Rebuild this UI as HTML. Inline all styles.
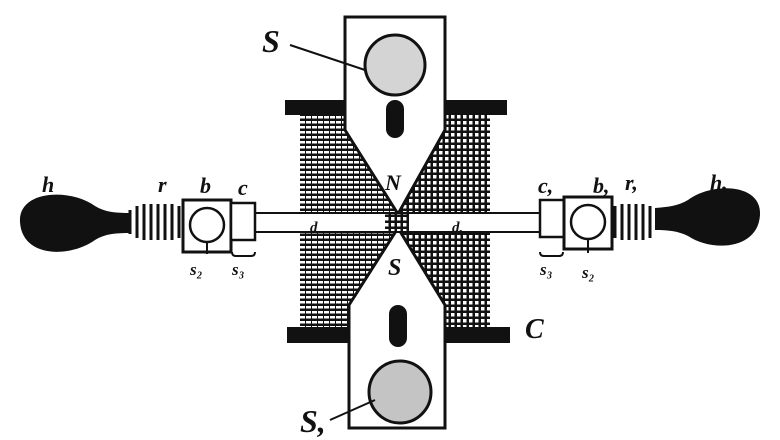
<!DOCTYPE html>
<html><head><style>body{margin:0;background:#fff}svg{display:block}</style></head><body>
<svg width="780" height="440" viewBox="0 0 780 440" xmlns="http://www.w3.org/2000/svg" font-family="Liberation Serif, serif" font-style="italic" font-weight="bold">
<defs>
<pattern id="hatch" width="6" height="5" patternUnits="userSpaceOnUse">
<rect width="6" height="5" fill="#111"/><rect x="0" y="1" width="5" height="2.5" fill="#fff"/>
</pattern>
<pattern id="grid" width="6" height="6" patternUnits="userSpaceOnUse">
<rect width="6" height="6" fill="#111"/><rect x="1" y="1" width="3.5" height="3.5" fill="#fff"/>
</pattern>
</defs>
<!-- coil -->
<rect x="300" y="114" width="95" height="214" fill="url(#hatch)"/>
<rect x="395" y="114" width="95" height="214" fill="url(#grid)"/>
<rect x="285" y="100" width="222" height="15" fill="#111"/>
<rect x="287" y="327" width="223" height="16" fill="#111"/>
<!-- top plate -->
<path d="M345 17 H445 V130 L398 214 L345 130 Z" fill="#fff" stroke="#111" stroke-width="3"/>
<circle cx="395" cy="65" r="30" fill="#d4d4d4" stroke="#111" stroke-width="3"/>
<rect x="386" y="100" width="18" height="38" rx="9" fill="#111"/>
<!-- bottom plate -->
<path d="M349 428 H445 V305 L398 228 L349 305 Z" fill="#fff" stroke="#111" stroke-width="3"/>
<circle cx="400" cy="392" r="31" fill="#c4c4c4" stroke="#111" stroke-width="3"/>
<rect x="389" y="305" width="18" height="42" rx="9" fill="#111"/>
<!-- rod -->
<rect x="255" y="213" width="285" height="19" fill="#fff" stroke="#111" stroke-width="2"/>
<rect x="385" y="214" width="24" height="17" fill="url(#grid)"/>
<!-- springs -->
<g stroke="#111" stroke-width="3" fill="none">
<path d="M130 210 v24 M137 206 v32 M144 204 v36 M151 204 v36 M158 204 v36 M165 204 v36 M172 204 v36 M179 206 v32"/>
<path d="M615 206 v32 M622 204 v36 M629 204 v36 M636 204 v36 M643 204 v36 M650 206 v32"/>
</g>
<!-- handles -->
<path d="M20 222 C18 190 70 188 95 206 C105 212 115 213 130 213 V233 C115 233 105 234 95 240 C70 258 22 258 20 222 Z" fill="#111"/>
<path d="M760 215 C762 183 712 182 688 200 C678 206 668 207 655 208 V230 C668 230 678 231 688 236 C712 252 758 250 760 215 Z" fill="#111"/>
<!-- blocks -->
<rect x="183" y="200" width="48" height="52" fill="#fff" stroke="#111" stroke-width="3"/>
<circle cx="207" cy="225" r="17" fill="#fff" stroke="#111" stroke-width="2.5"/>
<rect x="231" y="203" width="24" height="37" fill="#fff" stroke="#111" stroke-width="2.5"/>
<rect x="540" y="200" width="24" height="37" fill="#fff" stroke="#111" stroke-width="2.5"/>
<rect x="564" y="197" width="48" height="52" fill="#fff" stroke="#111" stroke-width="3"/>
<circle cx="588" cy="222" r="17" fill="#fff" stroke="#111" stroke-width="2.5"/>
<g stroke="#111" stroke-width="2" fill="none">
<path d="M207 242 v12 M588 239 v14 M232 252 q0 4 4 4 h15 q4 0 4-4 M540 252 q0 4 4 4 h15 q4 0 4-4"/>
<path d="M290 45 L365 70 M330 420 L375 400"/>
</g>
<!-- labels -->
<g fill="#111" font-size="22">
<text x="42" y="192">h</text>
<text x="158" y="192">r</text>
<text x="200" y="193">b</text>
<text x="238" y="195">c</text>
<text x="310" y="232" font-size="15">d</text>
<text x="452" y="232" font-size="15">d,</text>
<text x="538" y="193">c,</text>
<text x="593" y="193">b,</text>
<text x="625" y="190">r,</text>
<text x="710" y="190">h,</text>
<text x="262" y="52" font-size="32">S</text>
<text x="385" y="190" font-size="22">N</text>
<text x="388" y="275" font-size="24">S</text>
<text x="525" y="338" font-size="28">C</text>
<text x="300" y="432" font-size="32">S,</text>
<text x="190" y="275" font-size="17">s₂</text>
<text x="232" y="275" font-size="17">s₃</text>
<text x="540" y="275" font-size="17">s₃</text>
<text x="582" y="278" font-size="17">s₂</text>
</g>
</svg>
</body></html>
